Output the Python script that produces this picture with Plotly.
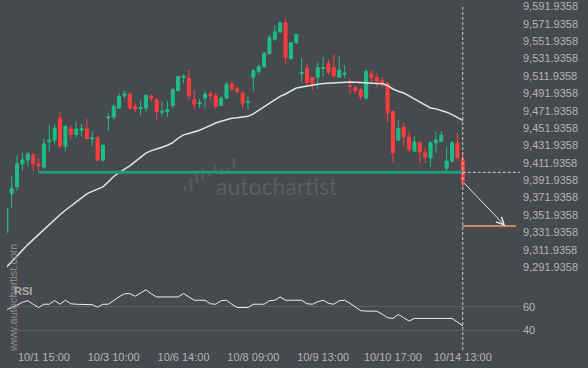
import plotly.graph_objects as go

# ---------------- data ----------------
candle_idx = list(range(86))
opens = [9332.0, 9376.6, 9384.6, 9410.9, 9415.2, 9420.9, 9410.9, 9407.2, 9436.1, 9438.1,
         9463.6, 9431.2, 9451.0, 9444.6, 9449.5, 9451.0, 9439.5, 9440.7, 9415.2, 9463.6,
         9464.7, 9475.0, 9489.2, 9491.0, 9477.0, 9474.3, 9475.0, 9488.4, 9484.6, 9470.1,
         9471.2, 9477.8, 9494.9, 9510.1, 9509.3, 9484.6, 9480.0, 9486.5, 9491.5, 9489.2,
         9478.1, 9486.5, 9502.5, 9497.2, 9492.2, 9481.5, 9510.5, 9517.0, 9522.7, 9537.9,
         9554.0, 9562.8, 9573.1, 9532.2, 9550.2, 9514.7, 9520.8, 9510.1, 9510.1, 9520.8,
         9526.5, 9521.6, 9510.5, 9513.9, 9501.0, 9498.7, 9496.1, 9486.5, 9514.4, 9510.1,
         9506.4, 9503.6, 9471.2, 9438.1, 9452.9, 9441.5, 9425.5, 9435.0, 9423.5, 9417.8,
         9435.0, 9436.9, 9405.7, 9414.0, 9435.0, 9416.0]
highs = [9360.0, 9396.9, 9420.9, 9423.5, 9424.3, 9423.2, 9417.8, 9440.0, 9456.0, 9456.7,
         9471.2, 9455.0, 9455.2, 9459.0, 9456.7, 9462.9, 9448.3, 9442.6, 9433.0, 9469.3,
         9479.6, 9492.2, 9494.9, 9493.0, 9480.7, 9483.5, 9491.0, 9491.0, 9486.5, 9482.7,
         9483.5, 9497.5, 9512.4, 9513.9, 9518.9, 9496.1, 9485.8, 9494.9, 9494.9, 9492.2,
         9488.4, 9504.8, 9505.6, 9500.6, 9494.9, 9488.4, 9520.1, 9525.4, 9539.9, 9559.0,
         9570.4, 9574.0, 9578.8, 9551.0, 9560.8, 9532.2, 9526.5, 9511.0, 9527.6, 9534.2,
         9531.1, 9536.8, 9535.0, 9524.7, 9509.3, 9500.5, 9498.5, 9520.1, 9518.9, 9515.1,
         9511.3, 9504.5, 9472.0, 9460.6, 9459.0, 9447.5, 9442.6, 9436.9, 9430.0, 9436.9,
         9447.5, 9448.3, 9430.0, 9436.9, 9446.4, 9420.9]
lows = [9331.5, 9359.9, 9379.7, 9403.4, 9408.3, 9402.6, 9400.6, 9404.9, 9424.7, 9433.1,
        9429.2, 9424.7, 9438.9, 9440.7, 9442.6, 9439.5, 9431.2, 9414.5, 9412.9, 9449.1,
        9461.7, 9474.0, 9486.5, 9473.2, 9470.4, 9466.7, 9471.2, 9481.9, 9461.7, 9466.7,
        9464.7, 9475.0, 9494.0, 9503.6, 9484.6, 9473.2, 9475.0, 9475.0, 9482.7, 9474.3,
        9477.0, 9486.0, 9494.9, 9491.8, 9475.0, 9473.2, 9494.1, 9513.2, 9521.0, 9536.0,
        9552.1, 9561.0, 9525.8, 9530.4, 9549.0, 9504.8, 9501.0, 9496.1, 9497.2, 9511.3,
        9513.2, 9509.3, 9510.0, 9509.3, 9491.0, 9491.5, 9484.6, 9484.6, 9503.6, 9498.7,
        9498.7, 9459.0, 9412.1, 9436.9, 9431.2, 9423.5, 9424.3, 9412.1, 9412.1, 9407.2,
        9423.5, 9435.8, 9399.9, 9412.1, 9414.0, 9381.6]
closes = [9359.4, 9382.3, 9410.9, 9415.2, 9422.4, 9410.9, 9408.3, 9433.8, 9438.1, 9452.1,
          9431.2, 9454.1, 9444.6, 9451.0, 9451.4, 9440.0, 9440.7, 9415.2, 9432.3, 9464.7,
          9477.0, 9488.4, 9491.5, 9475.0, 9474.3, 9475.8, 9489.5, 9486.5, 9471.2, 9471.2,
          9473.2, 9496.7, 9511.3, 9511.6, 9489.2, 9479.6, 9481.5, 9491.0, 9489.2, 9477.0,
          9486.5, 9502.5, 9497.2, 9494.1, 9480.7, 9482.7, 9517.8, 9522.7, 9537.9, 9555.9,
          9562.8, 9573.1, 9533.0, 9550.2, 9559.7, 9515.9, 9504.8, 9503.6, 9521.6, 9521.6,
          9516.2, 9512.4, 9518.9, 9515.1, 9499.8, 9495.3, 9488.4, 9517.0, 9510.1, 9506.4,
          9503.6, 9469.3, 9423.5, 9451.4, 9441.5, 9427.4, 9435.8, 9424.7, 9418.6, 9435.0,
          9438.1, 9443.8, 9414.0, 9435.0, 9417.8, 9390.3]
moving_avg = [9291.6, 9298.4, 9305.3, 9311.5, 9317.9, 9323.6, 9329.3, 9335.6, 9341.9, 9347.6,
              9352.2, 9357.4, 9362.2, 9367.1, 9372.0, 9376.3, 9379.1, 9381.4, 9384.3, 9390.3,
              9396.3, 9400.6, 9404.3, 9408.6, 9413.4, 9418.6, 9423.2, 9426.0, 9427.7, 9430.0,
              9432.3, 9435.2, 9440.3, 9444.2, 9445.7, 9447.5, 9449.5, 9452.3, 9455.2, 9457.8,
              9459.8, 9461.5, 9463.2, 9463.8, 9464.4, 9465.5, 9468.4, 9472.4, 9476.9, 9480.9,
              9484.4, 9488.4, 9491.2, 9494.7, 9498.1, 9499.3, 9500.6, 9501.5, 9502.5, 9503.3,
              9503.7, 9504.4, 9504.7, 9505.1, 9505.0, 9504.6, 9504.4, 9504.4, 9504.1, 9503.7,
              9503.0, 9501.0, 9497.0, 9494.4, 9492.4, 9489.0, 9485.5, 9481.5, 9478.1, 9475.2,
              9474.1, 9472.6, 9470.3, 9467.4, 9464.4, 9460.9]
rsi = [57.6, 59.3, 61.4, 64.0, 65.3, 62.3, 59.5, 62.3, 62.3, 65.4,
       62.3, 65.7, 62.7, 62.3, 62.3, 62.3, 61.9, 59.7, 62.3, 62.3,
       65.7, 68.6, 71.2, 71.4, 69.1, 72.0, 74.6, 71.2, 68.5, 68.5,
       68.5, 68.5, 68.5, 71.4, 68.2, 65.7, 65.7, 65.7, 62.7, 62.3,
       65.3, 65.7, 62.3, 59.5, 59.5, 59.5, 62.3, 62.3, 62.3, 65.3,
       65.7, 68.5, 65.7, 65.7, 65.7, 65.7, 62.7, 62.3, 64.4, 65.7,
       63.1, 62.3, 65.3, 65.7, 63.1, 60.2, 56.8, 56.4, 56.4, 56.4,
       53.8, 50.8, 50.2, 53.6, 50.8, 47.9, 50.2, 50.2, 50.2, 50.2,
       50.2, 50.2, 50.2, 50.2, 47.1, 43.9]

x_tick_idx = [7, 20, 33, 46, 59, 72, 85]
x_tick_text = ["10/1 15:00", "10/3 10:00", "10/6 14:00", "10/8 09:00",
               "10/9 13:00", "10/10 17:00", "10/14 13:00"]
y_tick_vals = [9291.9358 + 20 * k for k in range(16)]
y_tick_text = [f"{v:,.4f}" for v in y_tick_vals]
rsi_tick_vals = [40, 60]

support_level = 9401.1
support_start_idx = 6
target_level = 9339.3
target_arrow_idx = 92.9
target_line_end_idx = 94.9

# ---------------- style ----------------
BG = "#46494e"
GREEN = "#1fbd86"
RED = "#ff3d3d"
SUPPORT = "#1f9c74"
TXT = "#b4b4b4"
W, H = 588, 368
ML, MR, MT, MB = 7, 68, 0, 23
PW, PH = W - ML - MR, H - MT - MB

X_RANGE = [0.13, 95.66]
Y_RANGE = [9281.29, 9597.09]
RSI_RANGE = [27.54, 82.63]

last = candle_idx[-1]

def pxx(px):
    return (px - ML) / PW

def pxy(py):
    return (H - MB - py) / PH

fig = go.Figure()
fig.add_trace(go.Candlestick(
    x=candle_idx, open=opens, high=highs, low=lows, close=closes,
    increasing=dict(line=dict(color=GREEN, width=1), fillcolor=GREEN),
    decreasing=dict(line=dict(color=RED, width=1), fillcolor=RED),
    whiskerwidth=0, hoverinfo="skip", xaxis="x", yaxis="y", showlegend=False))
fig.add_trace(go.Scatter(x=candle_idx, y=moving_avg, mode="lines",
                         line=dict(color="#e4e4e4", width=1.5),
                         hoverinfo="skip", showlegend=False, xaxis="x", yaxis="y"))
fig.add_trace(go.Scatter(x=[support_start_idx, last], y=[support_level, support_level],
                         mode="lines", line=dict(color=SUPPORT, width=3),
                         hoverinfo="skip", showlegend=False, xaxis="x", yaxis="y"))
fig.add_trace(go.Scatter(x=[last, X_RANGE[1]], y=[support_level, support_level],
                         mode="lines", line=dict(color="#d0d0d0", width=1, dash="3px,2px"),
                         hoverinfo="skip", showlegend=False, xaxis="x", yaxis="y"))
fig.add_trace(go.Scatter(x=[last, target_line_end_idx], y=[target_level, target_level],
                         mode="lines", line=dict(color="#f0a060", width=1.5),
                         hoverinfo="skip", showlegend=False, xaxis="x", yaxis="y"))
fig.add_trace(go.Scatter(x=candle_idx, y=rsi, mode="lines",
                         line=dict(color="#eeeeee", width=1),
                         hoverinfo="skip", showlegend=False, xaxis="x", yaxis="y2"))

shapes = [dict(type="line", xref="x", yref="paper", x0=last, x1=last,
               y0=pxy(350), y1=pxy(4),
               line=dict(color="#d0d0d0", width=1, dash="3px,2px"))]
# watermark logo bars
logo_bars = [(183.5, 186.5, 185, 190), (189.5, 192.5, 177, 190), (195.5, 198.5, 173, 182),
             (201, 204, 167, 178), (208, 211, 170, 175), (213.5, 216.5, 164, 173),
             (220, 223, 167, 174), (227, 230, 167, 173), (232.5, 235.5, 157, 167)]
for x0, x1, yt, yb in logo_bars:
    shapes.append(dict(type="rect", xref="paper", yref="paper",
                       x0=pxx(x0), x1=pxx(x1), y0=pxy(yb), y1=pxy(yt),
                       fillcolor="#55585d", line=dict(width=0), layer="below"))

annotations = [
    dict(x=target_arrow_idx, y=target_level, ax=last, ay=closes[-1],
         xref="x", yref="y", axref="x", ayref="y", text="", showarrow=True,
         arrowhead=5, arrowsize=1.5, arrowwidth=1, arrowcolor="#e6e6e6", standoff=0),
    dict(x=pxx(277), y=pxy(185), xref="paper", yref="paper", text="autochartist",
         showarrow=False, xanchor="center", yanchor="middle",
         font=dict(family="Lato", size=23, color="#5b5e63")),
    dict(x=pxx(13), y=pxy(297.5), xref="paper", yref="paper", text="www.autochartist.com",
         textangle=-90, showarrow=False, xanchor="center", yanchor="middle",
         font=dict(family="Liberation Sans", size=11, color="#8c8c8c")),
    dict(x=pxx(23), y=pxy(291), xref="paper", yref="paper", text="<b>RSI</b>",
         showarrow=False, xanchor="center", yanchor="middle",
         font=dict(family="Liberation Sans", size=11, color="#a8a8a8")),
]

fig.update_layout(
    width=W, height=H, autosize=False,
    margin=dict(l=ML, r=MR, t=MT, b=MB, pad=0),
    paper_bgcolor=BG, plot_bgcolor=BG,
    font=dict(family="Liberation Sans, Arial", size=11, color=TXT),
    showlegend=False, hovermode=False, boxgap=0.2,
    xaxis=dict(domain=[0, 1], range=X_RANGE, anchor="y2",
               tickmode="array", tickvals=x_tick_idx, ticktext=x_tick_text,
               showgrid=False, zeroline=False, showline=False, ticks="",
               ticklabelstandoff=4,
               tickfont=dict(size=11, color=TXT), rangeslider=dict(visible=False),
               fixedrange=True),
    yaxis=dict(domain=[pxy(276), 1], range=Y_RANGE, anchor="x", side="right",
               tickmode="array", tickvals=y_tick_vals, ticktext=y_tick_text,
               showgrid=False, zeroline=False, showline=False, ticks="",
               ticklabeloverflow="allow",
               ticklabelstandoff=2, tickfont=dict(size=11, color=TXT), fixedrange=True),
    yaxis2=dict(domain=[0, pxy(280)], range=RSI_RANGE, anchor="x", side="right",
                tickmode="array", tickvals=rsi_tick_vals,
                showgrid=True, gridcolor="#5b5e63", gridwidth=1,
                zeroline=False, showline=False, ticks="",
                ticklabelstandoff=2, tickfont=dict(size=11, color=TXT), fixedrange=True),
    shapes=shapes, annotations=annotations,
)

fig.write_html("out.html", config={"displayModeBar": False, "staticPlot": True})
